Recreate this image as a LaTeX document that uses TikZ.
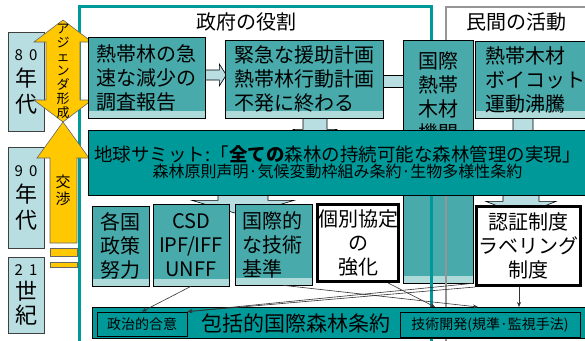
\documentclass[tikz,border=0pt]{standalone}
\usepackage{fontspec}
\setmainfont{Noto Sans CJK JP}
\usetikzlibrary{arrows.meta}
\definecolor{govteal}{RGB}{0,153,153}
\definecolor{stipteal}{RGB}{72,170,170}
\definecolor{stiplight}{RGB}{175,218,218}
\definecolor{paleblue}{RGB}{185,222,226}
\definecolor{gold}{RGB}{255,200,0}
\definecolor{framegray}{RGB}{150,150,150}
\pgfdeclarelayer{frames}
\pgfdeclarelayer{arrowlayer}
\pgfsetlayers{frames,arrowlayer,main}

\begin{document}
\begin{tikzpicture}[x=1pt, y=-1pt,
  yearbox/.style={draw=black!75, line width=0.8pt, fill=paleblue, minimum width=36pt, inner sep=0pt, align=center, font=\fontsize{22}{26}\selectfont},
  stipbox/.style={draw=black, line width=0.6pt, fill=stipteal, inner sep=0pt, font=\fontsize{20}{24}\selectfont,
    path picture={\fill[stiplight] (path picture bounding box.south west) rectangle ([yshift=7pt]path picture bounding box.south east);}},
  whitebox/.style={draw=black, line width=3pt, fill=white, inner sep=0pt, align=center, font=\fontsize{20}{24}\selectfont},
  tealbar/.style={draw=black, line width=0.8pt, fill=govteal, inner sep=0pt},
  smallbox/.style={draw=black, line width=0.8pt, inner sep=0pt, font=\fontsize{14}{14}\selectfont},
  blockarrow/.style={draw=black, line width=0.6pt, fill=paleblue},
  goldarrow/.style={draw=black!60, line width=0.6pt, fill=gold},
  thinline/.style={draw=black!80, line width=0.6pt, -{Stealth[length=5pt, width=4pt]}},
  title/.style={font=\fontsize{20}{24}\selectfont, inner sep=0pt}]
  \useasboundingbox (0,0) rectangle (585,340);

  % frames
  \begin{pgfonlayer}{frames}
    \draw[govteal, line width=3pt] (79.5,345) -- (79.5,6.5) -- (431,6.5) -- (431,345);
    \draw[framegray, line width=2pt] (446,345) -- (446,7) -- (595,7);
  \end{pgfonlayer}
  \node[title] (govtitle) at (246,22) {政府の役割};
  \node[title] (privtitle) at (516,22) {民間の活動};

  % decades
  \node[yearbox, minimum height=99pt] (y80) at (26,81.5) {{\fontsize{15}{15}\selectfont 8\hspace{6pt}0}\\年\\代};
  \node[yearbox, minimum height=101pt] (y90) at (26,197.5) {{\fontsize{15}{15}\selectfont 9\hspace{6pt}0}\\年\\代};
  \node[yearbox, minimum height=76pt, font=\fontsize{22}{24}\selectfont] (y21) at (26,295) {{\fontsize{15}{15}\selectfont 2\hspace{6pt}1}\\世\\紀};

  \draw[goldarrow] (63,20) -- (92,42) -- (80,42) -- (80,100) -- (92,100) -- (63,122) -- (34,100) -- (46,100) -- (46,42) -- (34,42) -- cycle;
  \draw[goldarrow] (63,122) -- (89,158) -- (77,158) -- (77,243) -- (50,243) -- (50,158) -- (37,158) -- cycle;
  \draw[goldarrow] (50,248) rectangle (77,256);
  \draw[goldarrow] (50,262) rectangle (77,267);
  \node[align=center, inner sep=0pt, font=\fontsize{13}{14}\selectfont] (agenda) at (63,71) {ア\\ジ\\ェ\\ン\\ダ\\形\\成};
  \node[align=center, inner sep=0pt, font=\fontsize{15}{17}\selectfont] (nego) at (63,190) {交\\渉};

  % upper row
  \node[stipbox, minimum width=117pt, minimum height=81pt, text width=100pt, align=left] (report) at (146.5,77.5) {熱帯林の急\\速な減少の\\調査報告};
  \node[stipbox, minimum width=158pt, minimum height=78pt, text width=140pt, align=left] (plan) at (304,79) {緊急な援助計画\\熱帯林行動計画\\不発に終わる};
  \node[stipbox, minimum width=70pt, minimum height=243pt,
    label={[anchor=north, yshift=-9pt, align=center, font=\fontsize{20}{24}\selectfont]north:{国際\\熱帯\\木材\\機関}}] (itto) at (438,161.5) {};
  \node[stipbox, minimum width=120pt, minimum height=77pt, text width=100pt, align=left] (boycott) at (535,79.5) {熱帯木材\\ボイコット\\運動沸騰};

  % summit
  \node[tealbar, minimum width=499pt, minimum height=65pt, align=center] (summit) at (337.5,162.5)
    {{\fontsize{18.5}{23}\selectfont 地球サミット:「\textbf{全ての}森林の持続可能な森林管理の実現」}\\
     {\fontsize{16}{20}\selectfont 森林原則声明·気候変動枠組み条約·生物多様性条約}};

  % lower row
  \node[stipbox, minimum width=57pt, minimum height=80pt, align=center] (kakkoku) at (120.5,246) {各国\\政策\\努力};
  \node[stipbox, minimum width=76pt, minimum height=82pt, align=center] (csd) at (191,245) {CSD\\IPF/IFF\\UNFF};
  \node[stipbox, minimum width=77pt, minimum height=81pt, text width=62pt, align=left] (kijun) at (273.5,244.5) {国際的\\な技術\\基準};
  \node[whitebox, minimum width=81pt, minimum height=77pt] (kobetsu) at (358,243) {個別協定\\の\\強化};
  \node[whitebox, minimum width=104pt, minimum height=79pt] (ninsho) at (528.5,246) {認証制度\\ラベリング\\制度};
  \draw[govteal, line width=3pt] (431,196) -- (431,307);
  \draw[framegray, line width=2pt] (446,196) -- (446,307);

  % treaty
  \node[tealbar, minimum width=498pt, minimum height=31pt] (treaty) at (341,322.5) {};
  \node[inner sep=0pt, font=\fontsize{21}{24}\selectfont] (treatytext) at (296,323) {包括的国際森林条約};
  \node[smallbox, minimum width=90pt, minimum height=24pt] (seiji) at (142,324) {政治的合意};
  \node[smallbox, minimum width=180pt, minimum height=25pt] (gijutsu) at (490,324.5) {技術開発(規準·監視手法)};

  % block arrows
  \begin{pgfonlayer}{arrowlayer}
    \draw[blockarrow] (report.east) ++(0,-7.5) -- ++(14,0) -- ++(0,-6) -- ++(7,11) -- ++(-7,11) -- ++(0,-6) -- ++(-14,0) -- cycle;
    \draw[blockarrow] (plan.east) ++(-2,-4) rectangle ++(24,12);
    \draw[blockarrow] (plan.south) ++(-1,-3) -- ++(0,14) -- ++(-10,0) -- ++(22,13) -- ++(22,-13) -- ++(-10,0) -- ++(0,-14) -- cycle;
    \draw[blockarrow] (boycott.south) ++(-22,-3) -- ++(0,16) -- ++(-13,0) -- ++(23,13) -- ++(23,-13) -- ++(-13,0) -- ++(0,-16) -- cycle;
    \draw[blockarrow] (summit.south) ++(-119.5,-5) -- ++(0,10) -- ++(-26,0) -- ++(51,15) -- ++(51,-15) -- ++(-26,0) -- ++(0,-10) -- cycle;
    \draw[blockarrow] (summit.south) ++(165.5,-5) -- ++(0,11) -- ++(-17,0) -- ++(35,14) -- ++(35,-14) -- ++(-17,0) -- ++(0,-11) -- cycle;
  \end{pgfonlayer}

  % thin connectors
  \coordinate (toA) at (435,307);
  \coordinate (toB) at (478,307);
  \coordinate (toC) at (519,307);
  \draw[thinline] (csd.south) -- (seiji.north);
  \draw[thinline] (itto.south east) -- (seiji.north east);
  \draw[thinline] (ninsho.south west) -- (seiji.north east);
  \draw[thinline] (kobetsu.-53) -- (toA);
  \draw[thinline] (kijun.-77) -- (toB);
  \draw[thinline] (ninsho.south -| toC) -- (toC);
\end{tikzpicture}
\end{document}
